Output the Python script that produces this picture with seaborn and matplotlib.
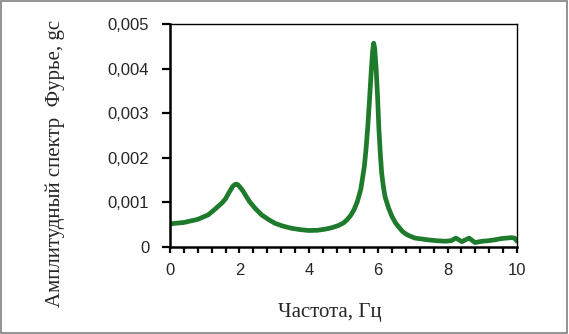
import numpy as np
import pandas as pd
import matplotlib
matplotlib.use("Agg")
import matplotlib.pyplot as plt
from matplotlib.patches import Rectangle
from matplotlib.ticker import MultipleLocator, FuncFormatter
import seaborn as sns

# spectrum
freq_hz = [0.0, 0.4, 0.8, 1.1, 1.3, 1.5, 1.6, 1.7, 1.8, 1.85, 1.9, 1.95, 2.0,
           2.1, 2.2, 2.3, 2.45, 2.64, 2.85, 3.03, 3.25, 3.5, 3.75, 4.0, 4.25,
           4.47, 4.65, 4.85, 5.0, 5.1, 5.2, 5.3, 5.4, 5.5, 5.6, 5.65, 5.7, 5.75,
           5.8, 5.84, 5.87, 5.9, 5.94, 5.98, 6.02, 6.06, 6.1, 6.15, 6.2, 6.3,
           6.4, 6.5, 6.6, 6.7, 6.8, 6.9, 7.06, 7.25, 7.44, 7.7, 7.93, 8.1, 8.24,
           8.41, 8.62, 8.79, 9.0, 9.17, 9.35, 9.56, 9.84, 9.93, 10.0]
amp_e3 = [0.52, 0.55, 0.62, 0.72, 0.85, 0.99, 1.08, 1.22, 1.35, 1.39, 1.41,
          1.40, 1.36, 1.26, 1.13, 1.01, 0.87, 0.72, 0.61, 0.53, 0.47, 0.42,
          0.39, 0.37, 0.375, 0.40, 0.43, 0.48, 0.54, 0.61, 0.70, 0.83, 1.02,
          1.30, 1.80, 2.20, 2.70, 3.30, 3.95, 4.40, 4.57, 4.45, 4.00, 3.40,
          2.65, 2.10, 1.66, 1.35, 1.12, 0.87, 0.68, 0.54, 0.44, 0.35, 0.29,
          0.25, 0.20, 0.18, 0.16, 0.14, 0.13, 0.14, 0.20, 0.12, 0.20, 0.10,
          0.13, 0.14, 0.16, 0.19, 0.21, 0.20, 0.13]
y_ticks = [0, 0.001, 0.002, 0.003, 0.004, 0.005]
y_labels = ["0", "0,001", "0,002", "0,003", "0,004", "0,005"]
x_ticks = [0, 2, 4, 6, 8, 10]

df = pd.DataFrame({"f": freq_hz, "a": np.array(amp_e3) * 1e-3})
serif = ["Liberation Serif", "DejaVu Serif"]


def build(variant):
    sns.set_theme(style="ticks")
    plt.rcParams["font.family"] = ["Liberation Sans", "DejaVu Sans"]
    plt.rcParams["xtick.bottom"] = True
    plt.rcParams["ytick.left"] = True

    fig = plt.figure(figsize=(5.69, 3.34), dpi=100)
    ax = fig.add_axes([170 / 569, 1 - 247 / 334, 347 / 569, 223 / 334])

    sns.lineplot(data=df, x="f", y="a", ax=ax, color="#1e7b2b", linewidth=3.4,
                 solid_joinstyle="round", solid_capstyle="round")

    ax.set_xlim(0, 10)
    ax.set_ylim(0, 0.005)
    ax.set_xticks(x_ticks)
    ax.xaxis.set_minor_locator(MultipleLocator(0.4))
    ax.xaxis.set_major_formatter(FuncFormatter(lambda v, p: f"{v:.0f}"))
    ax.set_yticks(y_ticks)
    ax.set_yticklabels(y_labels)

    for side in ["left", "bottom"]:
        ax.spines[side].set_linewidth(1.8)
        ax.spines[side].set_color("black")
    for side in ["top", "right"]:
        ax.spines[side].set_visible(True)
        ax.spines[side].set_linewidth(1.0)
        ax.spines[side].set_color("black")

    if variant == 0:
        ax.set_xlabel("")
        ax.set_ylabel("")
        fig.text(330 / 569, 1 - 316.7 / 334, "Частота, Гц", ha="center",
                 va="baseline", fontsize=15, family=serif)
        fig.text(55 / 569, 1 - 163 / 334, "Амплитудный спектр  Фурье, gc",
                 rotation=90, ha="center", va="center", fontsize=15, family=serif)
    else:
        ax.set_xlabel("Частота, Гц", fontsize=15, family=serif)
        ax.set_ylabel("Амплитудный спектр  Фурье, gc", fontsize=15, family=serif)
        ax.xaxis.set_label_coords((330 - 170) / 347, -(309 - 247) / 223)
        ax.yaxis.set_label_coords(-(170 - 55) / 347, (247 - 163) / 223)

    if variant < 2:
        fig.add_artist(Rectangle((0.001, 0.002), 0.996, 0.995,
                                 transform=fig.transFigure, fill=False,
                                 edgecolor="#808080", linewidth=1.2))
    else:
        fig.patch.set_edgecolor("#808080")
        fig.patch.set_linewidth(1.5)

    ax.tick_params(axis="x", which="both", bottom=True, direction="out",
                   length=4.5, width=1.6, color="black", labelsize=12, pad=7)
    ax.tick_params(axis="y", which="major", left=True, direction="out",
                   length=6, width=1.6, color="black", labelsize=12, pad=9)
    return fig


# keep the first layout whose tick marks really come out in the saved file
for variant in range(3):
    fig = build(variant)
    fig.savefig("out.png", dpi=100, edgecolor=fig.patch.get_edgecolor())
    plt.close(fig)
    img = plt.imread("out.png")
    if img[249:254, 181:188, :3].min() < 0.35:
        break
